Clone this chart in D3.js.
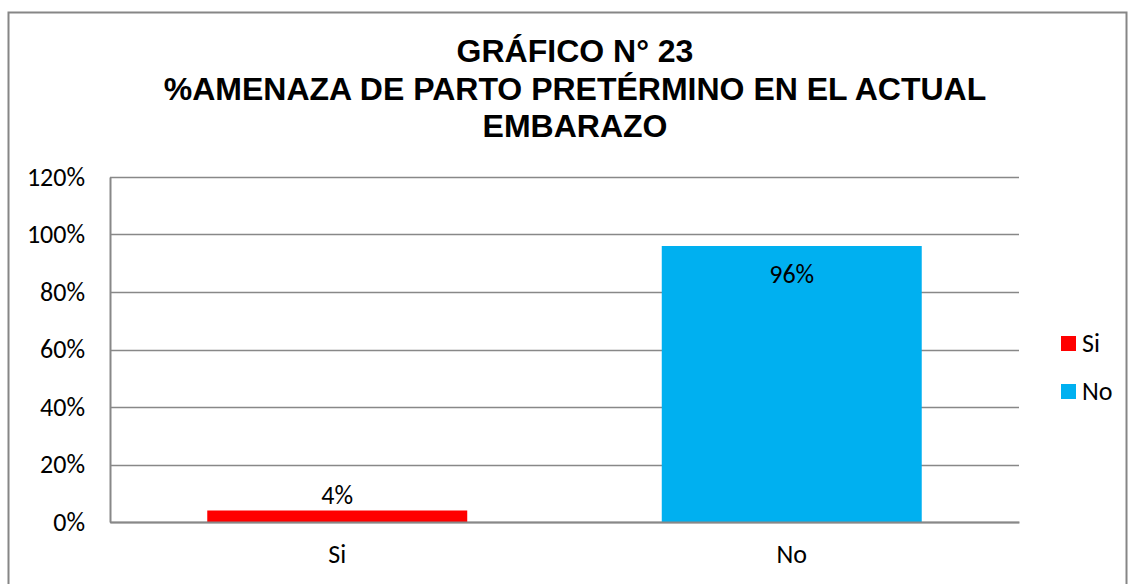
<!DOCTYPE html>
<html>
<head>
<meta charset="utf-8">
<script src="https://cdn.jsdelivr.net/npm/d3@7"></script>
<style>
  body { margin: 0; background: #fff; }
  svg text { font-family: Carlito, Lato, "Open Sans", sans-serif; }
</style>
</head>
<body>
<div id="chart"></div>
<script>
// chart data
const categories = ["Si", "No"];
const values = [0.04, 0.96];
const colors = ["#FF0000", "#00B0F0"];
const yTicks = [0, 0.2, 0.4, 0.6, 0.8, 1.0, 1.2];
const titleLines = ["GRÁFICO N° 23", "%AMENAZA DE PARTO PRETÉRMINO EN EL ACTUAL", "EMBARAZO"];

const W = 1129, H = 584;
const margin = {top: 177, right: 110, bottom: 62, left: 110};
const width = 1019 - margin.left,
      height = 522 - margin.top;

const svg = d3.select("#chart")
  .append("svg")
    .attr("width", W)
    .attr("height", H);

// outer chart border
svg.append("rect")
  .attr("x", 8.5).attr("y", 12.5)
  .attr("width", 1118).attr("height", 600)
  .attr("fill", "none")
  .attr("stroke", "#868686")
  .attr("stroke-width", 2);

// title
svg.append("text")
  .attr("text-anchor", "middle")
  .style("font-family", "'Liberation Sans', Arial, sans-serif")
  .style("font-weight", "bold")
  .style("font-size", "32px")
  .selectAll("tspan")
  .data(titleLines)
  .join("tspan")
    .attr("x", 575)
    .attr("y", (d, i) => 62 + i * 37.5)
    .text(d => d);

const g = svg.append("g")
  .attr("transform", `translate(${margin.left},${margin.top})`);

const x = d3.scaleBand()
  .domain(categories)
  .range([0, width])
  .paddingInner(0.428)
  .paddingOuter(0.214);

const y = d3.scaleLinear()
  .domain([0, 1.2])
  .range([height, 0]);

// gridlines
g.append("g")
  .selectAll("line")
  .data(yTicks)
  .join("line")
    .attr("x1", 0)
    .attr("x2", width)
    .attr("y1", d => Math.round(y(d)) + 0.5)
    .attr("y2", d => Math.round(y(d)) + 0.5)
    .attr("stroke", "#888")
    .attr("stroke-width", 1.5);

// y axis
const yAxis = g.append("g")
  .call(d3.axisLeft(y).tickValues(yTicks).tickFormat(d3.format(".0%")).tickSize(0).tickPadding(25));
yAxis.select(".domain").attr("stroke", "#888").attr("stroke-width", 2);
yAxis.selectAll("text")
  .style("font-size", "26px")
  .attr("fill", "#000")
  .attr("dy", "0.32em");

// bars
g.append("g")
  .selectAll("rect")
  .data(values)
  .join("rect")
    .attr("x", (d, i) => x(categories[i]))
    .attr("y", d => y(d))
    .attr("width", x.bandwidth())
    .attr("height", d => height - y(d))
    .attr("fill", (d, i) => colors[i]);

// x axis
const xAxis = g.append("g")
  .attr("transform", `translate(0,${height})`)
  .call(d3.axisBottom(x).tickSize(0).tickPadding(23));
xAxis.select(".domain").attr("stroke", "#888").attr("stroke-width", 2);
xAxis.selectAll("text")
  .style("font-size", "26px")
  .attr("fill", "#000");

// data labels
g.append("g")
  .selectAll("text")
  .data(values)
  .join("text")
    .attr("x", (d, i) => x(categories[i]) + x.bandwidth() / 2)
    .attr("y", d => d > 0.5 ? y(d) + 37 : y(d) - 7)
    .attr("text-anchor", "middle")
    .style("font-size", "26px")
    .text(d => d3.format(".0%")(d));

// legend
const legend = svg.append("g")
  .attr("transform", "translate(1061,336)");
const item = legend.selectAll("g")
  .data(categories)
  .join("g")
    .attr("transform", (d, i) => `translate(0,${i * 48})`);
item.append("rect")
  .attr("width", 15).attr("height", 15)
  .attr("fill", (d, i) => colors[i]);
item.append("text")
  .attr("x", 21).attr("y", 16)
  .style("font-size", "26px")
  .text(d => d);
</script>
</body>
</html>
